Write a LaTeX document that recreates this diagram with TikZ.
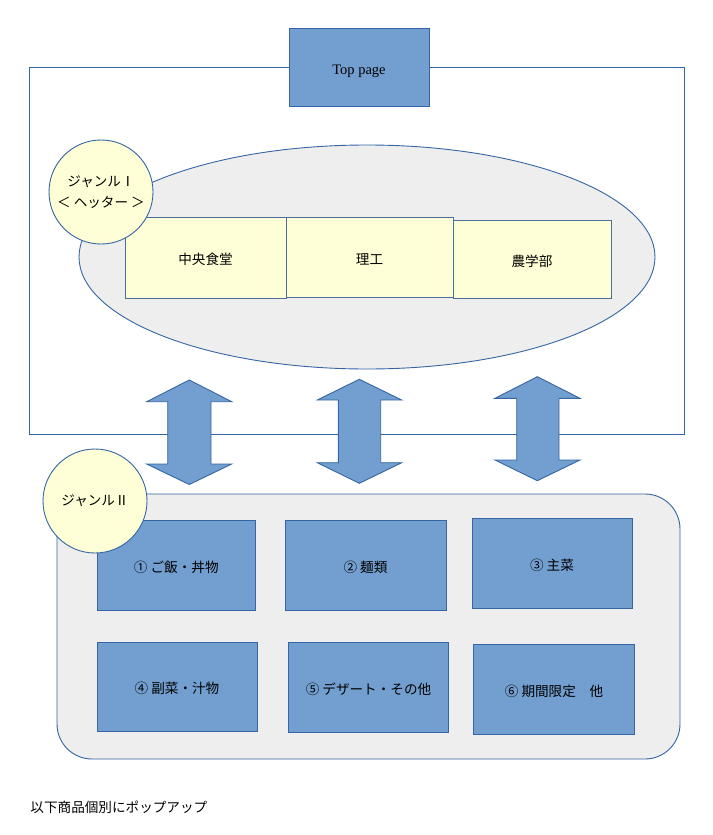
\documentclass[tikz,border=0pt]{standalone}
\usepackage{fontspec}
\setmainfont{Liberation Serif}
\newfontfamily\jp{Noto Sans CJK JP}
\definecolor{bl}{HTML}{729FCF}
\definecolor{ln}{HTML}{3465A4}
\definecolor{yl}{HTML}{FFFFD7}
\definecolor{gr}{HTML}{EEEEEE}
\begin{document}
\begin{tikzpicture}[x=1pt,y=-1pt,line width=0.9pt,
  font=\fontsize{13.6}{18}\selectfont\jp,
  bluebox/.style={draw=ln,fill=bl,inner sep=0pt,align=center,text height=15pt,text depth=1pt},
  yellowbox/.style={draw=ln!70!gray,fill=yl,inner sep=0pt,align=center,text height=15pt,text depth=1pt},
  genre/.style={circle,draw=ln,fill=yl,inner sep=0pt,minimum size=104pt,align=center},
  dblarrow/.style={draw=ln,fill=bl,line join=miter}]
\useasboundingbox (0,0) rectangle (712,835);
% upper frame
\draw[ln] (29,67) rectangle (684,434);
\node[bluebox,minimum width=140pt,minimum height=78pt,font=\fontsize{14.5}{16}\selectfont\rmfamily] (top) at (359,67) {Top page};
% ellipse
\draw[ln,fill=gr] (367,257) ellipse [x radius=288, y radius=112];
\node[yellowbox,minimum width=161pt,minimum height=81pt] (b1) at (205.5,257.5) {中央食堂};
\node[yellowbox,minimum width=167pt,minimum height=80pt] (b2) at (369.5,257) {理工};
\node[yellowbox,minimum width=158pt,minimum height=78pt] (b3) at (532,259) {農学部};
\node[genre] (g1) at (101,192) {ジャンルⅠ\\[3pt]＜ ヘッター ＞};
% double arrows
\draw[dblarrow] (189.3,380) -- (231.7,401.7) -- (211,401.7) -- (211,464) -- (231.7,464) -- (189.3,484.5) -- (146.7,464) -- (167.7,464) -- (167.7,401.7) -- (146.7,401.7) -- cycle;
\draw[dblarrow] (359.3,379.3) -- (401.7,400) -- (380.7,400) -- (380.7,462.7) -- (401.7,462.7) -- (359.3,483.3) -- (317.3,462.7) -- (338.3,462.7) -- (338.3,400) -- (317.3,400) -- cycle;
\draw[dblarrow] (537.3,376.7) -- (580,398.3) -- (559,398.3) -- (559,460) -- (580,460) -- (537.3,480.7) -- (495,460) -- (516.7,460) -- (516.7,398.3) -- (495,398.3) -- cycle;
% lower frame
\draw[ln,fill=gr,rounded corners=35pt] (57,494) rectangle (680,759);
\node[bluebox,minimum width=158.7pt,minimum height=90pt] (c1) at (176.3,565) {① ご飯・丼物};
\node[bluebox,minimum width=161pt,minimum height=90pt] (c2) at (365.5,565) {② 麺類};
\node[bluebox,minimum width=160pt,minimum height=90pt] (c3) at (552,563) {③ 主菜};
\node[bluebox,minimum width=160pt,minimum height=89pt] (c4) at (177,686.5) {④ 副菜・汁物};
\node[bluebox,minimum width=160.4pt,minimum height=90pt] (c5) at (368.5,687.3) {⑤ デザート・その他};
\node[bluebox,minimum width=160.6pt,minimum height=90pt] (c6) at (554,689) {⑥ 期間限定　他};
\node[genre] (g2) at (95,501) {ジャンルⅡ};
% note
\node[anchor=west,inner sep=0pt] (note) at (30,807) {以下商品個別にポップアップ};
\end{tikzpicture}
\end{document}
